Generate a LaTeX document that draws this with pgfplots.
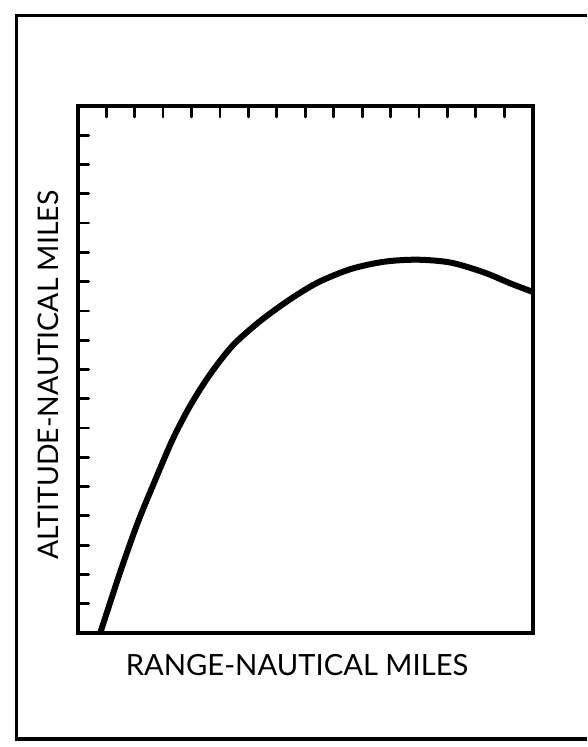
\documentclass[border=0pt]{standalone}
\usepackage{fontspec}
\setmainfont{Lato}
\usepackage{pgfplots}
\pgfplotsset{compat=1.18}
\begin{document}
\begin{tikzpicture}[x=0.5pt,y=0.5pt]
\useasboundingbox (0,0) rectangle (587,747);
\draw[line width=1.6pt] (587,731.5) -- (16.5,731.5) -- (16.5,8) -- (587,8);
\begin{axis}[
  scale only axis, width=227.5pt, height=263.5pt,
  at={(38.875pt,57pt)}, anchor=south west,
  xmin=0, xmax=16, ymin=0, ymax=18,
  xtick={1,...,15}, ytick={1,...,17},
  xticklabels={}, yticklabels={},
  xtick pos=right, ytick pos=left,
  tick align=inside,
  major tick length=5.5pt,
  axis line style={line width=1.75pt},
  tick style={line width=1.4pt, black, line cap=round},
  xlabel={RANGE-NAUTICAL MILES},
  ylabel={ALTITUDE-NAUTICAL MILES},
  xlabel style={at={(axis description cs:0.482,-0.0607)}, anchor=center, font=\fontsize{14.6}{16}\selectfont},
  ylabel style={at={(axis description cs:-0.0650,0.4896)}, anchor=center, font=\fontsize{14.2}{16}\selectfont},
]
\addplot[black, line width=3pt, smooth, tension=0.5] coordinates {
(0.79,0) (1.52,2.16) (2.13,3.82) (2.74,5.26) (3.35,6.64) (3.97,7.79)
(4.65,8.83) (5.44,9.81) (6.37,10.62) (7.41,11.36) (8.44,11.97)
(9.60,12.43) (10.77,12.68) (11.94,12.75) (13.12,12.65) (14.30,12.31)
(15.24,11.93) (16.0,11.65)
};
\end{axis}
\end{tikzpicture}
\end{document}
